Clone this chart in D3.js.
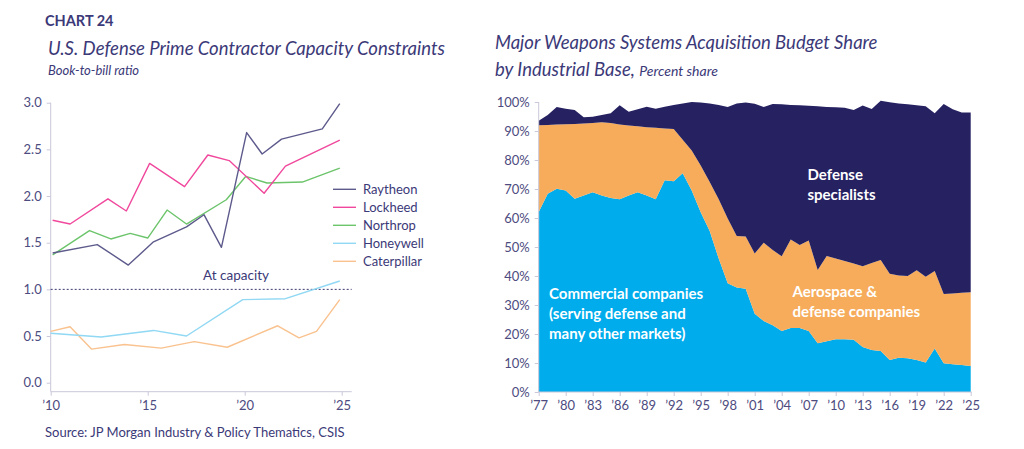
<!DOCTYPE html>
<html>
<head>
<meta charset="utf-8">
<script src="https://cdn.jsdelivr.net/npm/d3@7"></script>
<style>
  body { margin: 0; background: #fff; }
  svg { display: block; font-family: Lato, "Open Sans", sans-serif; }
</style>
</head>
<body>
<div id="chart"></div>
<script>
var raytheonYears = [2010.1, 2012.4, 2014.0, 2015.3, 2017.0, 2017.9, 2018.8, 2020.1, 2020.9, 2021.9, 2024.0, 2024.9];
var raytheonValues = [1.39, 1.48, 1.26, 1.51, 1.67, 1.80, 1.45, 2.68, 2.45, 2.61, 2.72, 2.99];
var lockheedYears = [2010.1, 2011.0, 2012.95, 2013.9, 2015.1, 2016.9, 2018.1, 2019.2, 2021.0, 2022.1, 2024.9];
var lockheedValues = [1.74, 1.70, 1.97, 1.84, 2.35, 2.10, 2.44, 2.38, 2.03, 2.32, 2.60];
var northropYears = [2010.1, 2012.0, 2013.1, 2014.1, 2015.0, 2016.0, 2017.0, 2019.05, 2020.05, 2021.15, 2022.97, 2024.9];
var northropValues = [1.37, 1.63, 1.54, 1.60, 1.55, 1.85, 1.70, 1.96, 2.21, 2.14, 2.15, 2.30];
var honeywellYears = [2010.0, 2012.6, 2015.3, 2017.0, 2019.9, 2022.1, 2024.9];
var honeywellValues = [0.53, 0.49, 0.56, 0.50, 0.89, 0.90, 1.09];
var caterpillarYears = [2010.0, 2011.0, 2012.1, 2013.8, 2015.7, 2017.4, 2019.1, 2021.7, 2022.8, 2023.7, 2024.9];
var caterpillarValues = [0.55, 0.60, 0.36, 0.41, 0.37, 0.44, 0.38, 0.61, 0.48, 0.55, 0.89];

var companies = ['Raytheon', 'Lockheed', 'Northrop', 'Honeywell', 'Caterpillar'];
var leftYTicks = [0, 0.5, 1.0, 1.5, 2.0, 2.5, 3.0];
var leftXTicks = [2010, 2015, 2020, 2025];
var capacityLevel = 1.0;

// right chart: budget share by industrial base, percent
var shareYears = d3.range(1977, 2026);
var commercialShare = [62.1, 68.4, 70.1, 69.5, 66.6, 67.8, 68.9, 67.8, 66.9, 66.5,
  67.8, 68.9, 67.8, 66.5, 73.0, 72.7, 75.4, 69.5, 62.0, 55.5,
  46.0, 37.5, 36.0, 35.6, 27.0, 24.5, 23.0, 21.0, 22.1, 22.1,
  21.0, 16.8, 17.5, 18.2, 18.2, 18.0, 15.5, 14.5, 14.1, 11.0,
  11.8, 11.6, 11.0, 10.2, 15.0, 9.9, 9.6, 9.3, 9.0];
var aerospaceShare = [29.9, 23.7, 22.1, 22.8, 25.8, 24.8, 23.9, 25.2, 25.9, 25.7,
  24.1, 22.7, 23.5, 24.6, 17.9, 18.0, 11.6, 13.8, 16.1, 16.9,
  20.5, 22.3, 17.8, 18.0, 20.8, 27.0, 26.0, 25.8, 30.5, 28.6,
  31.2, 25.3, 29.4, 27.8, 27.0, 26.3, 27.9, 30.0, 31.4, 29.8,
  28.4, 28.4, 31.0, 29.5, 26.7, 23.9, 24.4, 24.9, 25.4];
var defenseShare = [1.5, 3.4, 6.1, 5.4, 4.8, 2.1, 2.1, 2.5, 3.3, 6.7,
  4.7, 5.9, 7.1, 6.6, 7.5, 8.3, 12.5, 16.7, 21.7, 27.1,
  32.5, 38.5, 45.7, 46.2, 51.6, 46.8, 50.3, 52.4, 46.4, 48.2,
  46.5, 56.4, 51.4, 52.2, 52.8, 52.9, 55.4, 53.1, 54.9, 59.1,
  59.3, 59.2, 56.9, 58.8, 54.4, 65.5, 63.5, 62.2, 62.0];
var rightYTicks = d3.range(0, 101, 10);
var rightXTicks = d3.range(1977, 2026, 3);

var titleColor = '#3b3978';
var tickColor = '#4d4b80';
var axisColor = '#c9c8da';
var lineColors = {
  Raytheon: '#5d5a8c',
  Lockheed: '#f0489c',
  Northrop: '#6cc46b',
  Honeywell: '#90d8f3',
  Caterpillar: '#f9c28e'
};
var areaColors = { commercial: '#00acec', aerospace: '#f6ac5b', defense: '#262262' };

var svg = d3.select('#chart')
            .append('svg')
            .attr('width', 1024)
            .attr('height', 449);

function yearLabel(y) {
  return '\u2019' + String(y).slice(2);
}

// ---- titles ----
svg.append('text').attr('x', 45).attr('y', 26)
   .attr('font-size', 14.5).attr('font-weight', 700).attr('fill', titleColor)
   .text('CHART 24');
svg.append('text').attr('x', 48).attr('y', 55)
   .attr('font-size', 18.5).attr('font-style', 'italic').attr('fill', titleColor)
   .text('U.S. Defense Prime Contractor Capacity Constraints');
svg.append('text').attr('x', 48).attr('y', 75)
   .attr('font-size', 13).attr('font-style', 'italic').attr('fill', titleColor)
   .text('Book-to-bill ratio');

svg.append('text').attr('x', 495).attr('y', 49)
   .attr('font-size', 18.5).attr('font-style', 'italic').attr('fill', titleColor)
   .text('Major Weapons Systems Acquisition Budget Share');
var t2 = svg.append('text').attr('x', 495).attr('y', 76)
   .attr('font-style', 'italic').attr('fill', titleColor);
t2.append('tspan').attr('font-size', 18.5).text('by Industrial Base, ');
t2.append('tspan').attr('font-size', 14).text('Percent share');

// ---- left chart ----
var xL = d3.scaleLinear().domain([2010, 2025]).range([50.7, 341.7]);
var yL = d3.scaleLinear().domain([0, 3]).range([382.7, 102.7]);
var leftAxisY = 391.7;

var gL = svg.append('g');

gL.append('line')
  .attr('x1', xL(2010)).attr('x2', xL(2010))
  .attr('y1', yL(3)).attr('y2', leftAxisY)
  .attr('stroke', axisColor);
gL.append('line')
  .attr('x1', xL(2010)).attr('x2', 351.7)
  .attr('y1', leftAxisY).attr('y2', leftAxisY)
  .attr('stroke', axisColor);

var yAxisL = gL.append('g')
  .attr('transform', 'translate(' + xL(2010) + ',0)')
  .call(d3.axisLeft(yL).tickValues(leftYTicks).tickFormat(d3.format('.1f')).tickSize(4).tickPadding(5));
var xAxisL = gL.append('g')
  .attr('transform', 'translate(0,' + leftAxisY + ')')
  .call(d3.axisBottom(xL).tickValues(leftXTicks).tickFormat(yearLabel).tickSize(4).tickPadding(5));

[yAxisL, xAxisL].forEach(function(a) {
  a.select('.domain').remove();
  a.selectAll('line').attr('stroke', axisColor);
  a.selectAll('text').attr('fill', tickColor).attr('font-size', 13).attr('font-family', 'Lato, sans-serif');
});

gL.append('line')
  .attr('x1', xL(2010)).attr('x2', 351.7)
  .attr('y1', yL(capacityLevel)).attr('y2', yL(capacityLevel))
  .attr('stroke', '#262262').attr('stroke-width', 0.9)
  .attr('stroke-dasharray', '2,2');
gL.append('text')
  .attr('x', 236).attr('y', yL(capacityLevel) - 9)
  .attr('text-anchor', 'middle')
  .attr('font-size', 13.5).attr('fill', titleColor)
  .text('At capacity');

var series = {
  Raytheon: [raytheonYears, raytheonValues],
  Lockheed: [lockheedYears, lockheedValues],
  Northrop: [northropYears, northropValues],
  Honeywell: [honeywellYears, honeywellValues],
  Caterpillar: [caterpillarYears, caterpillarValues]
};

var line = d3.line()
             .x(d => xL(d[0]))
             .y(d => yL(d[1]));

// draw in back-to-front order so Raytheon ends up on top
['Caterpillar', 'Honeywell', 'Northrop', 'Lockheed', 'Raytheon'].forEach(function(name) {
  var pts = d3.zip(series[name][0], series[name][1]);
  gL.append('path')
    .datum(pts)
    .attr('d', line)
    .attr('fill', 'none')
    .attr('stroke', lineColors[name])
    .attr('stroke-width', 1.4)
    .attr('stroke-linejoin', 'round');
});

var legend = gL.append('g')
  .selectAll('g')
  .data(companies)
  .enter()
  .append('g')
  .attr('transform', (d, i) => 'translate(333,' + (189.3 + i * 18) + ')');
legend.append('line')
  .attr('x1', 0).attr('x2', 23)
  .attr('stroke', d => lineColors[d]).attr('stroke-width', 1.4);
legend.append('text')
  .attr('x', 30).attr('dy', '0.35em')
  .attr('font-size', 13).attr('fill', titleColor)
  .text(d => d);

svg.append('text').attr('x', 45).attr('y', 437)
   .attr('font-size', 13).attr('fill', titleColor)
   .text('Source: JP Morgan Industry & Policy Thematics, CSIS');

// ---- right chart ----
var xR = d3.scaleLinear().domain([1977, 2025]).range([538.7, 970.7]);
var yR = d3.scaleLinear().domain([0, 100]).range([392, 102]);

var rows = shareYears.map(function(y, i) {
  return { year: y, commercial: commercialShare[i], aerospace: aerospaceShare[i], defense: defenseShare[i] };
});
var stack = d3.stack().keys(['commercial', 'aerospace', 'defense']);
var layers = stack(rows);

var area = d3.area()
             .x(d => xR(d.data.year))
             .y0(d => yR(d[0]))
             .y1(d => yR(d[1]));

var gR = svg.append('g');
gR.selectAll('path.layer')
  .data(layers)
  .enter()
  .append('path')
  .attr('class', 'layer')
  .attr('d', area)
  .attr('fill', d => areaColors[d.key]);

gR.append('line')
  .attr('x1', xR(1977)).attr('x2', xR(1977))
  .attr('y1', yR(100)).attr('y2', yR(0))
  .attr('stroke', axisColor);
gR.append('line')
  .attr('x1', xR(1977)).attr('x2', xR(2025) + 1)
  .attr('y1', yR(0)).attr('y2', yR(0))
  .attr('stroke', axisColor);

var yAxisR = gR.append('g')
  .attr('transform', 'translate(' + xR(1977) + ',0)')
  .call(d3.axisLeft(yR).tickValues(rightYTicks).tickFormat(d => d + '%').tickSize(4).tickPadding(5));
var xAxisR = gR.append('g')
  .attr('transform', 'translate(0,' + yR(0) + ')')
  .call(d3.axisBottom(xR).tickValues(rightXTicks).tickFormat(yearLabel).tickSize(4).tickPadding(5));

[yAxisR, xAxisR].forEach(function(a) {
  a.select('.domain').remove();
  a.selectAll('line').attr('stroke', axisColor);
  a.selectAll('text').attr('fill', tickColor).attr('font-size', 13).attr('font-family', 'Lato, sans-serif');
});

function areaLabel(x, y, lines) {
  var t = gR.append('text')
    .attr('font-size', 15).attr('font-weight', 700).attr('fill', '#fff');
  lines.forEach(function(s, i) {
    t.append('tspan').attr('x', x).attr('y', y + i * 20).attr('dy', '0.35em').text(s);
  });
}
areaLabel(549, 293.3, ['Commercial companies', '(serving defense and', 'many other markets)']);
areaLabel(807.5, 175, ['Defense', 'specialists']);
areaLabel(792.5, 291.7, ['Aerospace &', 'defense companies']);
</script>
</body>
</html>
